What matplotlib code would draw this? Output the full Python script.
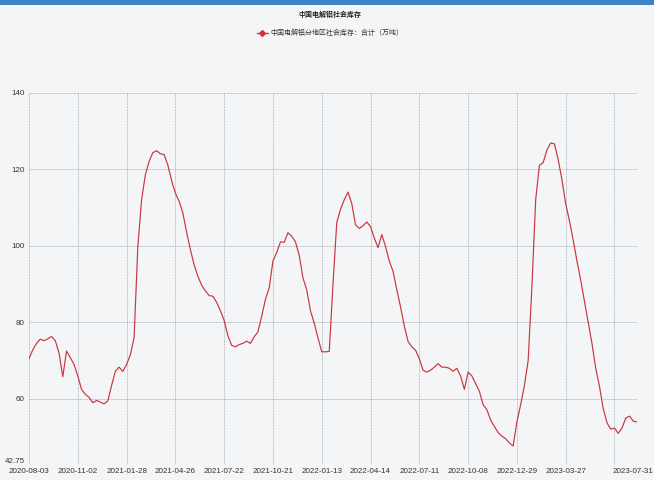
import matplotlib
matplotlib.use("Agg")
import matplotlib.pyplot as plt
import matplotlib.transforms as mtransforms
from matplotlib.patches import Rectangle
from matplotlib.lines import Line2D

title = "中国电解铝社会库存"
series_name = "中国电解铝分地区社会库存：合计（万吨）"

# weekly readings, 2020-08-03 .. 2023-07-31
values = [
    70.5, 72.8, 74.5, 75.6, 75.2, 75.7, 76.3, 75.2, 72.0, 65.8,
    72.5, 70.8, 69.0, 66.0, 62.5, 61.2, 60.4, 59.0, 59.6, 59.2,
    58.7, 59.5, 63.5, 67.2, 68.3, 67.2, 69.0, 71.5, 76.0, 99.8,
    112.0, 118.5, 122.0, 124.3, 124.8, 124.0, 123.8, 121.0, 117.0, 113.7,
    111.6, 108.5, 103.5, 99.0, 95.0, 92.0, 89.7, 88.2, 87.0, 86.8,
    85.2, 83.0, 80.5, 76.5, 74.0, 73.6, 74.2, 74.5, 75.1, 74.5,
    76.2, 77.5, 81.6, 86.0, 89.0, 96.0, 98.2, 101.0, 100.9, 103.4,
    102.5, 101.0, 97.5, 91.6, 88.5, 83.0, 79.8, 75.9, 72.3, 72.3,
    72.4, 90.0, 106.0, 109.5, 112.0, 114.0, 111.0, 105.5, 104.5, 105.2,
    106.2, 105.0, 102.0, 99.5, 102.9, 99.8, 96.0, 93.3, 88.5, 84.0,
    79.0, 75.0, 73.6, 72.7, 70.5, 67.5, 67.0, 67.5, 68.3, 69.2,
    68.3, 68.3, 68.0, 67.2, 68.0, 66.0, 62.5, 67.0, 66.0, 64.0,
    62.0, 58.5, 57.2, 54.5, 52.8, 51.2, 50.3, 49.6, 48.5, 47.7,
    54.0, 58.5, 63.5, 70.0, 89.4, 112.0, 121.0, 121.7, 125.0, 126.8,
    126.6, 122.5, 117.2, 111.0, 106.5, 101.5, 96.0, 91.0, 85.5, 80.0,
    74.5, 68.0, 63.3, 57.5, 53.8, 52.1, 52.4, 51.0, 52.4, 55.0,
    55.5, 54.2, 54.0,
]

tick_labels = ["2020-08-03", "2020-11-02", "2021-01-28", "2021-04-26", "2021-07-22",
               "2021-10-21", "2022-01-13", "2022-04-14", "2022-07-11", "2022-10-08",
               "2022-12-29", "2023-03-27", "", "2023-07-31"]
tick_step = 13
y_ticks = [42.75, 60, 80, 100, 120, 140]
y_labels = ["42.75", "60", "80", "100", "120", "140"]

bg = "#f4f5f7"
line_color = "#c9343f"
grid_color = "#939cab"
cjk = ["Noto Sans CJK SC", "DejaVu Sans"]
num_font = ["Liberation Sans Narrow", "Liberation Sans", "DejaVu Sans"]

fig = plt.figure(figsize=(6.54, 4.8), dpi=100, facecolor=bg)
ax = fig.add_axes([29 / 654, 1 - 465 / 480, (637 - 29) / 654, (465 - 92.5) / 480])
ax.set_facecolor(bg)

x = list(range(len(values)))
ax.plot(x, values, color=line_color, linewidth=0.85)

n = len(values)
xt = list(range(0, n - 1, tick_step)) + [n - 1]
ax.set_xticks(xt)
ax.set_xticklabels(tick_labels[:len(xt)])
ax.set_xlim(0, n - 1)
ax.set_ylim(42.75, 140)
ax.set_yticks(y_ticks)
ax.set_yticklabels(y_labels)

for lab in ax.get_xticklabels() + ax.get_yticklabels():
    lab.set_fontfamily(num_font)
    lab.set_fontsize(5.8)
    lab.set_color("#333333")
ax.tick_params(axis="both", length=0, pad=2)
ax.tick_params(axis="y", pad=3)

# lift the bottom y label a little, and keep the last date label inside the figure
ax.get_yticklabels()[0].set_verticalalignment("bottom")
last = ax.get_xticklabels()[-1]
last.set_horizontalalignment("right")
last.set_transform(last.get_transform() + mtransforms.ScaledTranslation(16 / 100, 0, fig.dpi_scale_trans))

ax.grid(True, color=grid_color, linestyle=(0, (1, 1)), linewidth=0.55)
ax.yaxis.get_gridlines()[0].set_visible(False)
for s in ax.spines.values():
    s.set_visible(False)

fig.patches.append(Rectangle((0, 1 - 5 / 480), 1, 5 / 480, transform=fig.transFigure,
                             facecolor="#3d84c6", edgecolor="none"))

fig.text(330 / 654, 1 - 14 / 480, title, ha="center", va="center",
         fontsize=5, fontweight="bold", family=cjk, color="#222222")

handle = Line2D([], [], color=line_color, linewidth=0.9, marker="D", markersize=3)
fig.legend([handle], [series_name], loc="center", bbox_to_anchor=(330 / 654, 1 - 33 / 480),
           frameon=False, prop={"family": cjk, "size": 5}, handlelength=1.6,
           handletextpad=0.4, labelcolor="#333333")

fig.savefig("out.png", dpi=100, facecolor=bg)
